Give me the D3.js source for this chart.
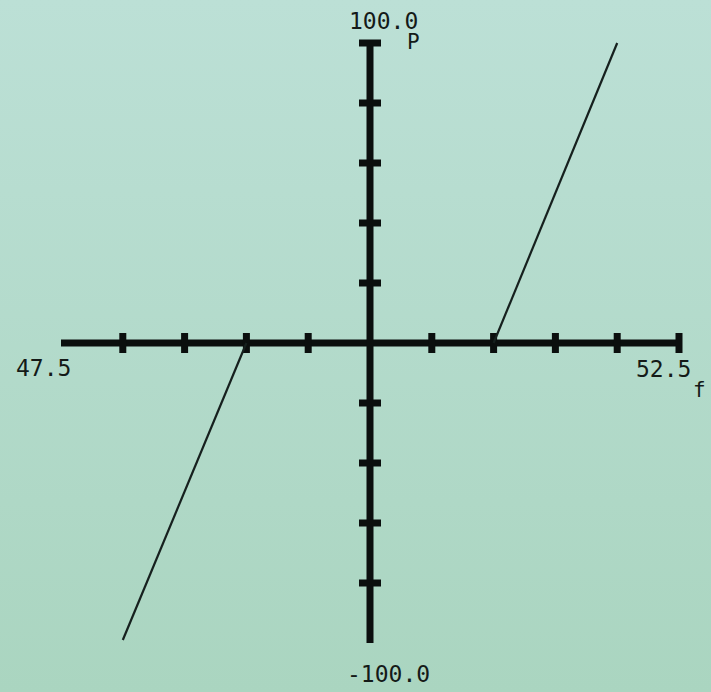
<!DOCTYPE html>
<html>
<head>
<meta charset="utf-8">
<script src="https://cdn.jsdelivr.net/npm/d3@7"></script>
<style>
  html, body { margin: 0; padding: 0; background: #b3d9cb; }
  text { font-family: "DejaVu Sans Mono", "Liberation Mono", monospace; fill: #141a18; }
</style>
</head>
<body>
<script>
// frequency / power droop data
var fDomain = [47.5, 52.5];
var pDomain = [-100, 100];
var fTicks = [48, 48.5, 49, 49.5, 50.5, 51, 51.5, 52, 52.5];
var pTicks = [100, 80, 60, 40, 20, -20, -40, -60, -80];
var endLabels = ["47.5", "52.5", "100.0", "-100.0"];
var lowBranch = [{f: 48, p: -99}, {f: 49, p: 0}];
var highBranch = [{f: 51, p: 0}, {f: 52, p: 100}];

var svgWidth = 711;
var svgHeight = 692;

var svg = d3.select("body")
  .append("svg")
  .attr("width", svgWidth)
  .attr("height", svgHeight);

// screen-ish background
var defs = svg.append("defs");
var grad = defs.append("linearGradient")
  .attr("id", "bg")
  .attr("x1", 0).attr("y1", 0).attr("x2", 0).attr("y2", 1);
grad.append("stop").attr("offset", "0%").attr("stop-color", "#bce0d6");
grad.append("stop").attr("offset", "100%").attr("stop-color", "#aad5c0");

svg.append("rect")
  .attr("width", svgWidth)
  .attr("height", svgHeight)
  .attr("fill", "url(#bg)");

var x = d3.scaleLinear().domain(fDomain).range([61, 679]);
var y = d3.scaleLinear().domain(pDomain).range([643, 43]);

var axisColor = "#0b0f0e";
var x0 = x(50);
var y0 = y(0);

// axes
svg.append("line")
  .attr("x1", x(fDomain[0])).attr("x2", x(fDomain[1]))
  .attr("y1", y0).attr("y2", y0)
  .attr("stroke", axisColor)
  .attr("stroke-width", 7);

svg.append("line")
  .attr("x1", x0).attr("x2", x0)
  .attr("y1", y(pDomain[1])).attr("y2", y(pDomain[0]))
  .attr("stroke", axisColor)
  .attr("stroke-width", 7);

// ticks
svg.selectAll(".ftick")
  .data(fTicks)
  .enter()
  .append("rect")
  .attr("class", "ftick")
  .attr("x", d => x(d) - 3.5)
  .attr("y", y0 - 10)
  .attr("width", 7)
  .attr("height", 20)
  .attr("fill", axisColor);

svg.selectAll(".ptick")
  .data(pTicks)
  .enter()
  .append("rect")
  .attr("class", "ptick")
  .attr("x", x0 - 11)
  .attr("y", d => y(d) - 3.5)
  .attr("width", 22)
  .attr("height", 7)
  .attr("fill", axisColor);

// curve
var line = d3.line()
  .x(d => x(d.f))
  .y(d => y(d.p));

[lowBranch, highBranch].forEach(function(branch) {
  svg.append("path")
    .datum(branch)
    .attr("d", line)
    .attr("fill", "none")
    .attr("stroke", "#16201e")
    .attr("stroke-width", 2.2);
});

// labels
svg.append("text")
  .attr("x", 349).attr("y", 29)
  .attr("font-size", 23)
  .text(endLabels[2]);

svg.append("text")
  .attr("x", 347).attr("y", 682)
  .attr("font-size", 23)
  .text(endLabels[3]);

svg.append("text")
  .attr("x", 16).attr("y", 376)
  .attr("font-size", 23)
  .text(endLabels[0]);

svg.append("text")
  .attr("x", 636).attr("y", 377)
  .attr("font-size", 23)
  .text(endLabels[1]);

svg.append("text")
  .attr("x", 407).attr("y", 49)
  .attr("font-size", 21)
  .text("P");

svg.append("text")
  .attr("x", 693).attr("y", 397)
  .attr("font-size", 21)
  .text("f");
</script>
</body>
</html>
